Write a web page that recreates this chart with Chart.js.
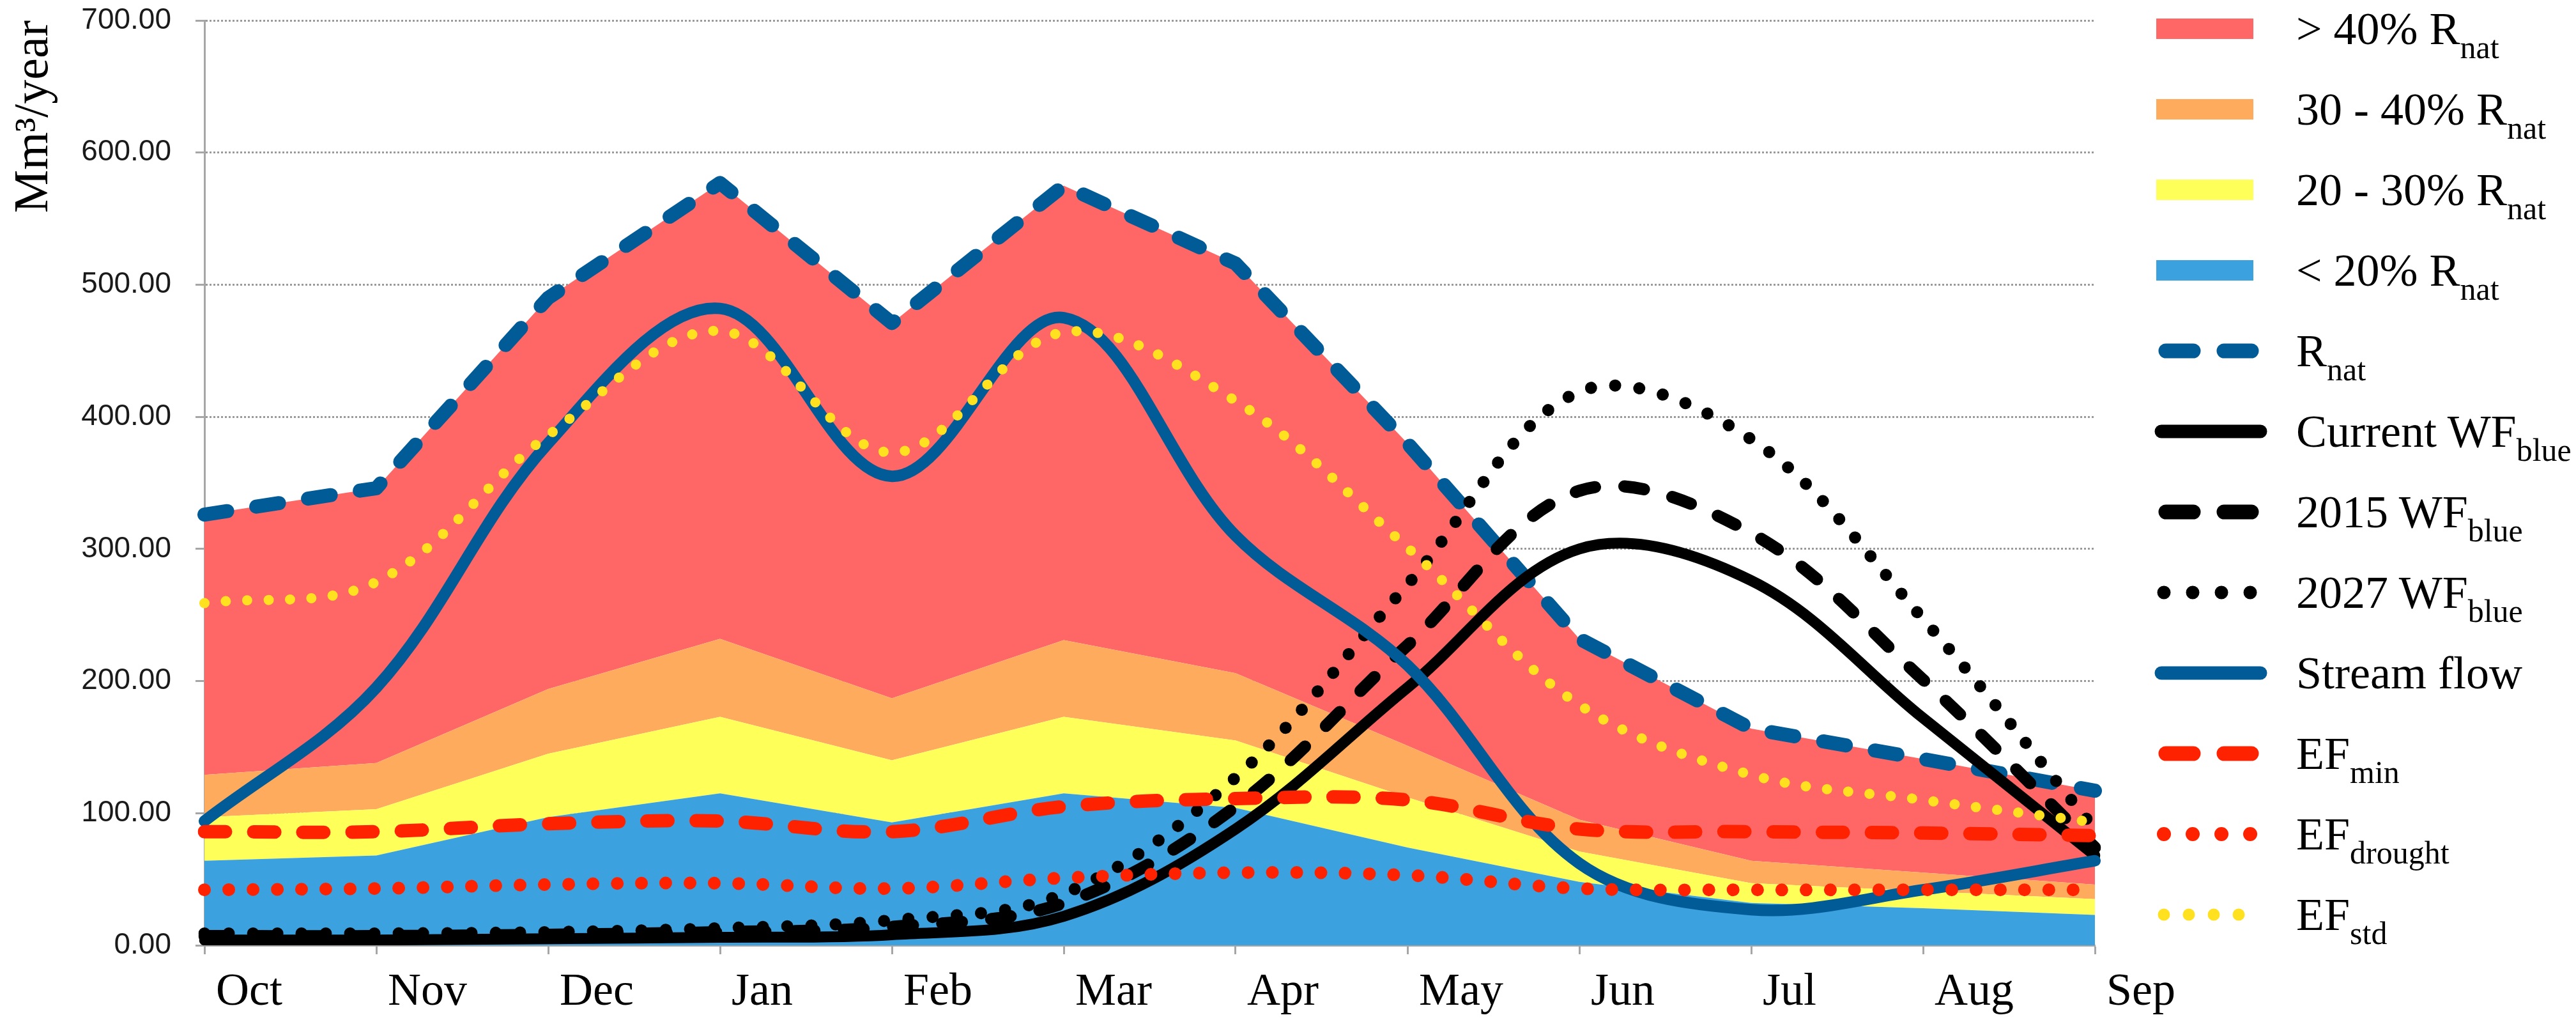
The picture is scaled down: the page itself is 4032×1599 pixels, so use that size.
<!DOCTYPE html>
<html>
<head>
<meta charset="utf-8">
<script src="https://cdn.jsdelivr.net/npm/chart.js@4.4.1/dist/chart.umd.min.js"></script>
<style>
  body { margin: 0; background: #fff; }
  #wrap { position: relative; width: 4032px; height: 1599px; }
  #legend { position: absolute; left: 0; top: 0; }
  .row { position: absolute; left: 3360px; height: 80px; width: 672px; }
  .row svg { position: absolute; left: 0; top: 0; }
  .row span {
    position: absolute; left: 234px; top: 0; white-space: nowrap;
    font-family: 'Liberation Serif', 'Times New Roman', serif;
    font-size: 72px; line-height: 80px; color: #000;
  }
  .row sub { font-size: 50px; vertical-align: -22px; line-height: 0; }
</style>
</head>
<body>
<div id="wrap">
  <canvas id="chart" width="4032" height="1599"></canvas>
  <div id="legend"></div>
</div>
<script>
// Water availability vs. blue water footprint, monthly (Mm3/year)

const months = ['Oct', 'Nov', 'Dec', 'Jan', 'Feb', 'Mar', 'Apr', 'May', 'Jun', 'Jul', 'Aug', 'Sep'];

const rNat    = [326, 346, 490, 577, 471, 575, 516, 380, 232, 164, 141, 117];
const band40  = [129, 138, 194, 232, 187, 231, 206, 151, 95, 64, 55, 46];
const band30  = [97, 103, 145, 173, 140, 173, 155, 112, 71, 47, 41, 35];
const band20  = [64, 68, 97, 115, 93, 115, 104, 74, 48, 32, 28, 23];

// line series
const streamFlow = [94, 195, 380, 482, 355, 475, 310, 212, 62, 27, 42, 64];
const wfCurrent  = [4, 4, 5, 6, 8, 22, 88, 195, 300, 276, 172, 68];
const wf2015     = [7, 7, 8, 10, 14, 32, 105, 227, 344, 312, 201, 74];
const wf2027     = [9, 9, 10, 13, 19, 39, 127, 273, 419, 383, 247, 88];
const efMin      = [86, 86, 92, 94, 86, 105, 111, 110, 88, 86, 85, 83];
const efDrought  = [42, 43, 46, 47, 43, 51, 55, 53, 43, 42, 42, 42];
const efStd      = [259, 275, 386, 465, 373, 464, 412, 301, 182, 129, 110, 93];

const yTicks = [0, 100, 200, 300, 400, 500, 600, 700];

const RED = '#ff6666';
const ORANGE = '#ffab5e';
const YELLOW = '#ffff5a';
const BLUE = '#3ca1df';
const NAVY = '#005b96';
const EFRED = '#ff2200';
const GOLD = '#ffe11f';
const SERIF = "'Liberation Serif', 'Times New Roman', serif";

function area(label, data, color, fill) {
    return {
        label: label, data: data, fill: fill,
        backgroundColor: color, borderWidth: 0,
        tension: 0, pointRadius: 0, order: 100
    };
}

function line(label, data, color, width, dash, order, tension) {
    return {
        label: label, data: data, fill: false,
        borderColor: color, borderWidth: width, borderDash: dash,
        borderCapStyle: 'round', borderJoinStyle: 'round',
        tension: tension, pointRadius: 0, order: order
    };
}

const ctx = document.getElementById('chart').getContext('2d');
new Chart(ctx, {
    type: 'line',
    data: {
        labels: months,
        datasets: [
            area('< 20% Rnat', band20, BLUE, 'origin'),
            area('20 - 30% Rnat', band30, YELLOW, '-1'),
            area('30 - 40% Rnat', band40, ORANGE, '-1'),
            area('> 40% Rnat', rNat, RED, '-1'),
            line('Rnat', rNat, NAVY, 22, [36, 46], 9, 0),
            line('Current WFblue', wfCurrent, '#000', 17, [], 8, 0.35),
            line('2015 WFblue', wf2015, '#000', 19, [31, 46], 7, 0.35),
            line('2027 WFblue', wf2027, '#000', 19, [0.01, 38], 6, 0.35),
            line('Stream flow', streamFlow, NAVY, 18, [], 5, 0.35),
            line('EFmin', efMin, EFRED, 21, [33, 44], 4, 0.35),
            line('EFdrought', efDrought, EFRED, 20, [0.01, 38], 3, 0.35),
            line('EFstd', efStd, GOLD, 16, [0.01, 33.5], 2, 0.35)
        ]
    },
    options: {
        responsive: false,
        animation: false,
        devicePixelRatio: 1,
        layout: { padding: { left: 0, right: 753, top: 32, bottom: 5 } },
        plugins: {
            legend: { display: false },
            tooltip: { enabled: false }
        },
        scales: {
            x: {
                offset: false,
                afterFit: s => { s.height = 115; },
                grid: { drawOnChartArea: false, tickLength: 14, tickColor: '#a6a6a6', tickWidth: 3 },
                border: { color: '#a6a6a6', width: 3 },
                ticks: {
                    align: 'start', padding: 17, color: '#000', maxRotation: 0, autoSkip: false,
                    font: { family: SERIF, size: 72 },
                    callback: function (v) { return ' ' + this.getLabelForValue(v); }
                }
            },
            y: {
                min: 0, max: 700,
                afterBuildTicks: s => { s.ticks = yTicks.map(v => ({ value: v })); },
                afterFit: s => { s.width = 320; s.paddingTop = 0; s.paddingBottom = 0; },
                grid: { color: '#9a9a9a', lineWidth: 3, tickLength: 14, tickColor: '#a6a6a6', tickWidth: 3, tickBorderDash: [] },
                border: { color: '#a6a6a6', width: 3, dash: [3, 3] },
                ticks: {
                    padding: 38, color: '#1a1a1a',
                    font: { family: "'Liberation Sans', Arial, sans-serif", size: 46 },
                    callback: v => v.toFixed(2)
                },
                title: {
                    display: true, text: 'Mm³/year', align: 'end', color: '#000',
                    font: { family: SERIF, size: 76 },
                    padding: { top: 8, bottom: 0 }
                }
            }
        }
    }
});

// Legend with subscripts, drawn as HTML so the text stays text
const legendRows = [
    { main: '> 40% R', sub: 'nat', kind: 'box', color: RED },
    { main: '30 - 40% R', sub: 'nat', kind: 'box', color: ORANGE },
    { main: '20 - 30% R', sub: 'nat', kind: 'box', color: YELLOW },
    { main: '< 20% R', sub: 'nat', kind: 'box', color: BLUE },
    { main: 'R', sub: 'nat', kind: 'dash', color: NAVY },
    { main: 'Current WF', sub: 'blue', kind: 'solid', color: '#000' },
    { main: '2015 WF', sub: 'blue', kind: 'dash', color: '#000' },
    { main: '2027 WF', sub: 'blue', kind: 'dots', color: '#000', gap: 45, w: 21 },
    { main: 'Stream flow', sub: '', kind: 'solid', color: NAVY },
    { main: 'EF', sub: 'min', kind: 'dash', color: EFRED },
    { main: 'EF', sub: 'drought', kind: 'dots', color: EFRED, gap: 45, w: 22 },
    { main: 'EF', sub: 'std', kind: 'dots', color: GOLD, gap: 39, w: 19 }
];

const legend = document.getElementById('legend');
const NS = 'http://www.w3.org/2000/svg';
legendRows.forEach((r, i) => {
    const row = document.createElement('div');
    row.className = 'row';
    row.style.top = (45 + 126 * i - 40) + 'px';

    const svg = document.createElementNS(NS, 'svg');
    svg.setAttribute('width', 220);
    svg.setAttribute('height', 80);
    let el;
    if (r.kind === 'box') {
        el = document.createElementNS(NS, 'rect');
        el.setAttribute('x', 15); el.setAttribute('y', 24);
        el.setAttribute('width', 152); el.setAttribute('height', 32);
        el.setAttribute('fill', r.color);
    } else {
        el = document.createElementNS(NS, 'line');
        el.setAttribute('y1', 40); el.setAttribute('y2', 40);
        el.setAttribute('stroke', r.color);
        el.setAttribute('stroke-linecap', 'round');
        if (r.kind === 'solid') {
            el.setAttribute('x1', 23); el.setAttribute('x2', 178);
            el.setAttribute('stroke-width', 21);
        } else if (r.kind === 'dash') {
            el.setAttribute('x1', 30); el.setAttribute('x2', 165);
            el.setAttribute('stroke-width', 23);
            el.setAttribute('stroke-dasharray', '43 48');
        } else {
            el.setAttribute('x1', 27); el.setAttribute('x2', 27 + r.gap * 3 + 1);
            el.setAttribute('stroke-width', r.w);
            el.setAttribute('stroke-dasharray', '0.01 ' + r.gap);
        }
    }
    svg.appendChild(el);
    row.appendChild(svg);

    const span = document.createElement('span');
    span.textContent = r.main;
    if (r.sub) {
        const sub = document.createElement('sub');
        sub.textContent = r.sub;
        span.appendChild(sub);
    }
    row.appendChild(span);
    legend.appendChild(row);
});
</script>
</body>
</html>
